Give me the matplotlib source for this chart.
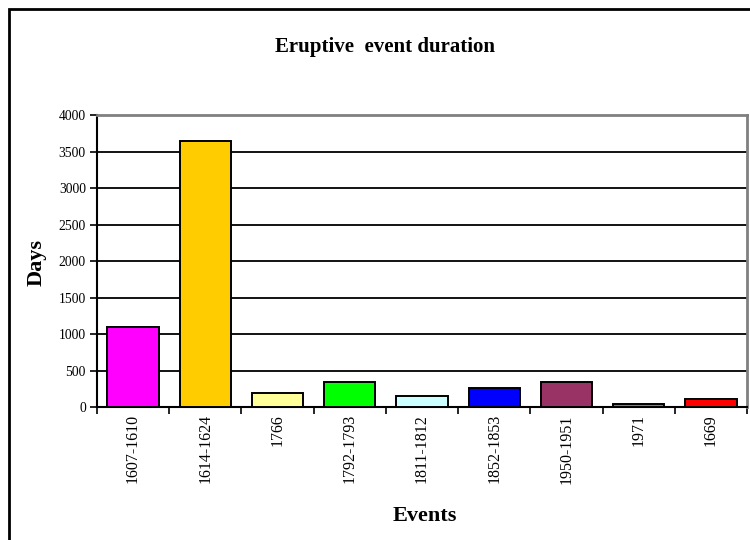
import matplotlib
matplotlib.use("Agg")
import matplotlib.pyplot as plt
from matplotlib.patches import Rectangle
import numpy as np

events = ["1607-1610", "1614-1624", "1766", "1792-1793", "1811-1812",
          "1852-1853", "1950-1951", "1971", "1669"]
days = [1100, 3640, 190, 350, 160, 270, 350, 50, 110]
colors = ["#FF00FF", "#FFCC00", "#FFFF99", "#00FF00", "#CCFFFF",
          "#0000FF", "#993366", "#808080", "#FF0000"]
yticks = [0, 500, 1000, 1500, 2000, 2500, 3000, 3500, 4000]

plt.rcParams["font.family"] = ["Liberation Serif", "DejaVu Serif"]

fig = plt.figure(figsize=(7.5, 5.4), dpi=100)
ax = fig.add_axes([97 / 750, 1 - 407.3 / 540, 650 / 750, (407.3 - 115) / 540])

x = np.arange(len(events))
ax.bar(x, days, width=0.71, color=colors, edgecolor="black", linewidth=1.4, zorder=3)

ax.set_xlim(-0.5, len(events) - 0.5)
ax.set_ylim(0, 4000)
ax.set_yticks(yticks)
ax.set_yticklabels([str(v) for v in yticks], fontsize=9.8)
ax.yaxis.grid(True, color="black", linewidth=1.3, zorder=0)
ax.set_axisbelow(True)

# category labels at bar centres, tick marks at category boundaries
ax.set_xticks(x)
ax.set_xticklabels(events, rotation=90, fontsize=11.5)
ax.tick_params(axis="x", which="major", length=0, pad=5)
ax.set_xticks(np.arange(-0.5, len(events), 1.0), minor=True)
ax.tick_params(axis="x", which="minor", length=5, width=1.2, direction="out", color="black")
ax.tick_params(axis="y", length=5, width=1.2, direction="out", pad=3)

for side in ("left", "bottom"):
    ax.spines[side].set_color("black")
    ax.spines[side].set_linewidth(1.5)
for side in ("top", "right"):
    ax.spines[side].set_color("#808080")
    ax.spines[side].set_linewidth(2)

fig.text(385 / 750, 1 - 47 / 540, "Eruptive  event duration", ha="center", va="center",
         fontsize=15, fontweight="bold")
fig.text(37 / 750, 1 - 262 / 540, "Days", ha="center", va="center", rotation=90,
         fontsize=16, fontweight="bold")
fig.text(425 / 750, 1 - 516 / 540, "Events", ha="center", va="center",
         fontsize=16, fontweight="bold")

# outer chart frame
fig.patches.append(Rectangle((9 / 750, -0.1), 1.2, 1 - 9 / 540 + 0.1,
                             transform=fig.transFigure, fill=False,
                             edgecolor="black", linewidth=2))

fig.savefig("out.png", dpi=100)
